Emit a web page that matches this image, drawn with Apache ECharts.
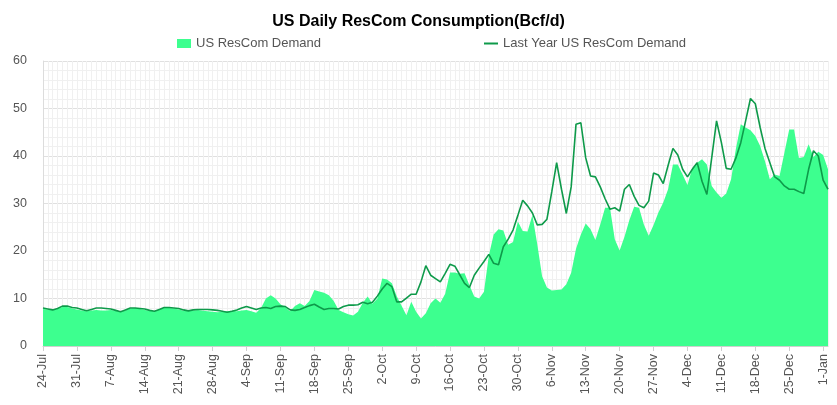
<!DOCTYPE html>
<html>
<head>
<meta charset="utf-8">
<script src="https://cdn.jsdelivr.net/npm/echarts@6/dist/echarts.min.js"></script>
<style>html,body{margin:0;padding:0;background:#fff}#c{width:837px;height:405px}</style>
</head>
<body>
<div id="c"></div>
<script>
const monthSpans = [['Jul',24,31],['Aug',1,31],['Sep',1,30],['Oct',1,31],['Nov',1,30],['Dec',1,31],['Jan',1,2]];
const categories = [];
monthSpans.forEach(function(m){ for (let d = m[1]; d <= m[2]; d++) categories.push(d + '-' + m[0]); });

const currentYear = [
7.8,7.7,7.6,7.8,8.2,8.2,7.9,7.7,7.5,7.3,
7.5,7.6,7.5,7.5,7.6,7.4,7.2,7.5,7.9,8.0,
7.8,7.6,7.4,7.3,7.7,8.0,8.0,7.9,7.7,7.4,
7.4,7.5,7.6,7.4,7.3,7.2,7.1,7.2,7.3,7.4,
7.3,7.5,7.6,7.3,7.0,8.0,10.0,10.7,10.0,8.8,
8.1,7.3,8.4,9.0,8.4,9.5,11.8,11.5,11.2,10.7,
9.5,7.6,7.1,6.7,6.4,7.2,9.1,10.4,8.9,10.0,
14.2,14.0,13.2,10.5,8.5,6.5,9.3,7.2,5.8,6.9,
9.0,10.0,9.1,11.0,15.5,15.5,15.2,15.3,12.8,10.4,
10.0,11.4,19.0,23.5,24.6,24.3,21.3,21.9,26.2,24.2,
24.1,27.6,21.4,14.7,12.3,11.7,11.8,11.9,13.0,15.4,
20.5,23.5,25.8,24.6,22.3,25.6,29.1,29.1,22.5,20.1,
23.0,26.5,29.3,29.1,25.6,23.2,25.5,28.1,30.2,33.0,
38.2,38.2,36.1,33.9,37.5,38.6,39.3,38.2,33.7,32.3,
31.2,32.1,35.1,41.6,46.7,46.0,45.4,44.2,42.1,38.9,
35.1,36.1,35.8,40.7,45.6,45.6,39.6,39.8,42.5,39.8,
40.9,40.2,37.2
];

const lastYear = [
8.0,7.8,7.6,7.9,8.4,8.4,8.1,8.0,7.7,7.4,
7.7,8.0,8.0,7.9,7.8,7.5,7.2,7.6,8.0,8.0,
7.9,7.8,7.5,7.3,7.7,8.1,8.1,8.0,7.9,7.6,
7.4,7.6,7.7,7.7,7.7,7.6,7.5,7.3,7.1,7.3,
7.6,8.0,8.3,8.0,7.7,8.0,8.1,7.9,8.3,8.4,
8.3,7.6,7.5,7.7,8.1,8.5,8.8,8.2,7.7,7.9,
7.9,7.8,8.3,8.6,8.6,8.7,9.2,8.9,9.2,10.5,
12.0,13.2,12.5,9.3,9.3,10.1,10.9,10.9,13.5,16.9,
14.9,14.2,13.5,15.3,17.2,16.8,15.0,13.2,12.3,14.9,
16.4,17.8,19.3,17.4,17.1,20.9,22.5,24.4,27.5,30.7,
29.5,28.0,25.5,25.6,26.7,32.5,38.6,33.0,27.9,33.5,
46.7,47.0,39.6,35.8,35.6,33.5,31.0,28.8,29.1,28.4,
33.0,34.0,31.5,29.6,29.1,30.5,36.4,36.0,34.2,38.0,
41.6,40.2,37.2,35.6,37.2,38.6,34.7,31.9,39.6,47.4,
42.8,37.4,37.2,39.6,42.8,47.4,52.1,51.0,46.0,41.6,
38.6,35.6,34.9,33.7,33.0,33.0,32.5,32.1,37.2,41.1,
40.0,34.9,33.0
];

const seriesNames = ['US ResCom Demand', 'Last Year US ResCom Demand'];
const yTicks = [0, 10, 20, 30, 40, 50, 60];

const FONT = 'Liberation Sans, Arial, sans-serif';
const chart = echarts.init(document.getElementById('c'), null, {renderer: 'canvas'});
chart.setOption({
  animation: false,
  backgroundColor: '#fff',
  title: {
    text: 'US Daily ResCom Consumption(Bcf/d)',
    left: 'center', top: 9,
    textStyle: {fontFamily: FONT, fontSize: 16, fontWeight: 'bold', color: '#000'}
  },
  legend: [
    {data: [seriesNames[0]], left: 172, top: 32, icon: 'rect', itemWidth: 14, itemHeight: 9, itemGap: 0,
     textStyle: {fontFamily: FONT, fontSize: 13, color: '#555'}},
    {data: [seriesNames[1]], left: 479, top: 32, icon: 'rect', itemWidth: 14, itemHeight: 2, itemGap: 0,
     textStyle: {fontFamily: FONT, fontSize: 13, color: '#555'}}
  ],
  grid: {left: 43, right: 9, top: 61, bottom: 59, containLabel: false},
  xAxis: [
    {
      type: 'category', data: categories, boundaryGap: false,
      axisLine: {show: true, lineStyle: {color: '#cfcfcf'}},
      axisTick: {show: true, interval: 6, length: 5, lineStyle: {color: '#cfcfcf'}},
      axisLabel: {interval: 6, rotate: 90, margin: 8, fontFamily: FONT, fontSize: 12.5, color: '#555'},
      splitLine: {show: true, interval: 6, lineStyle: {color: '#dcdcdc', width: 1}}
    },
    {
      type: 'category', data: categories, boundaryGap: false, position: 'bottom',
      axisLine: {show: false}, axisTick: {show: false}, axisLabel: {show: false},
      splitLine: {show: true, interval: 0, lineStyle: {color: '#f0f0f0', width: 1}}
    }
  ],
  yAxis: {
    type: 'value', min: 0, max: 60, interval: 10,
    axisLine: {show: true, lineStyle: {color: '#dcdcdc'}},
    axisTick: {show: false},
    axisLabel: {margin: 16, fontFamily: FONT, fontSize: 12.5, color: '#555',
      formatter: function(v){ return yTicks.indexOf(v) >= 0 ? String(v) : ''; }},
    splitLine: {show: true, lineStyle: {color: '#e0e0e0'}},
    minorTick: {show: false, splitNumber: 5},
    minorSplitLine: {show: true, lineStyle: {color: '#f0f0f0'}}
  },
  series: [
    {
      name: seriesNames[0], type: 'line', data: currentYear, xAxisIndex: 0,
      showSymbol: false, symbol: 'none', smooth: false,
      color: '#3dff8f',
      lineStyle: {width: 0, color: '#3dff8f'},
      areaStyle: {color: '#3dff8f', opacity: 1},
      z: 2
    },
    {
      name: seriesNames[1], type: 'line', data: lastYear, xAxisIndex: 0,
      showSymbol: false, symbol: 'none', smooth: false,
      color: '#0e9a4a',
      lineStyle: {width: 1.6, color: '#0e9a4a'},
      z: 3
    }
  ]
});
</script>
</body>
</html>
